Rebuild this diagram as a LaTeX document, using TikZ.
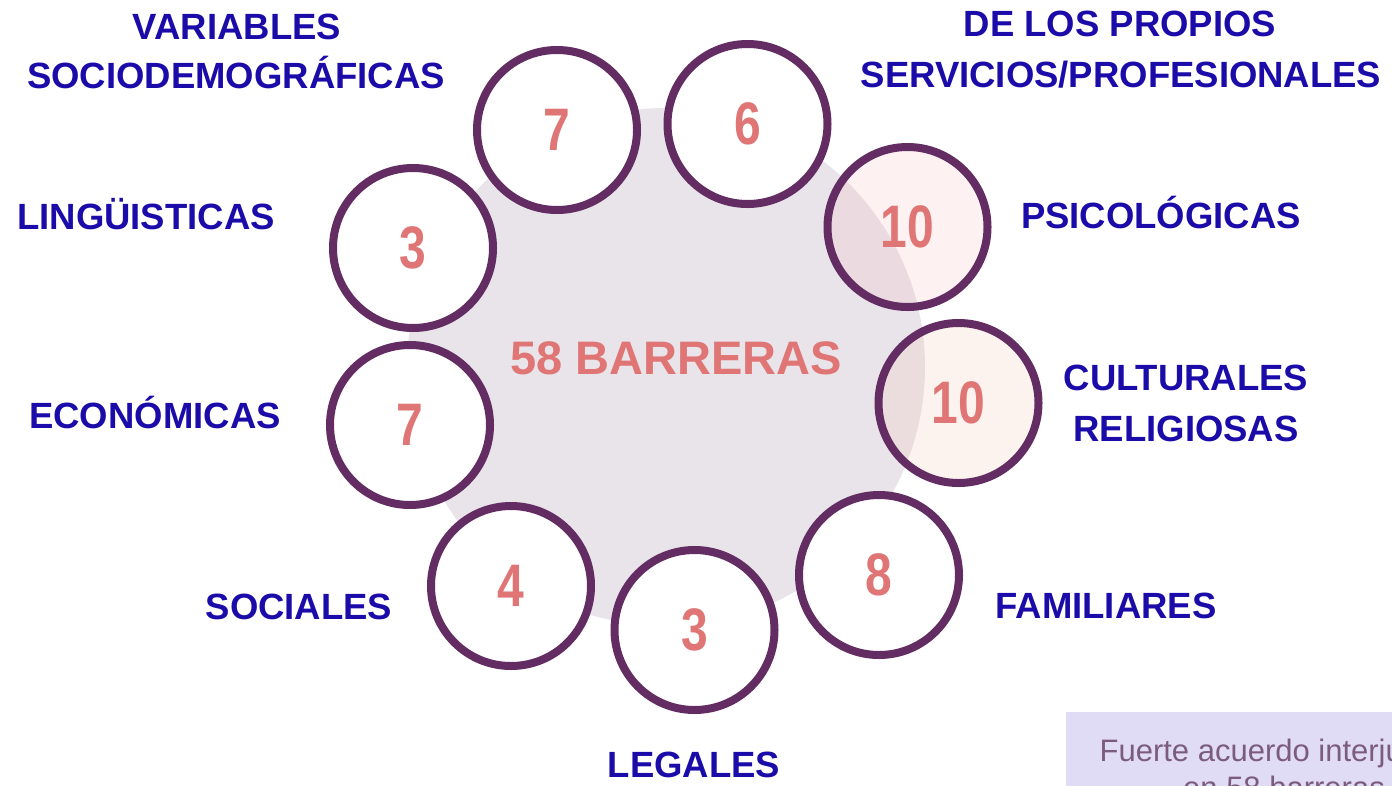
\documentclass[tikz,border=0pt]{standalone}
\usepackage{fontspec}
\setmainfont{Liberation Sans}
\usepackage{graphicx}
\definecolor{ring}{HTML}{632C62}
\definecolor{numc}{HTML}{E07575}
\definecolor{lab}{HTML}{1B0CA9}
\definecolor{bigc}{HTML}{E8E4EA}
\definecolor{psic}{HTML}{F6BEC0}
\definecolor{cult}{HTML}{F6C8B2}
\definecolor{boxc}{HTML}{E1DCF5}
\definecolor{boxt}{HTML}{7B5C7E}
\tikzset{
  ringc/.style={circle, draw=ring, line width=8pt, minimum size=160pt, inner sep=0pt, fill=white},
  numtxt/.style={text=numc, font=\fontsize{60}{60}\selectfont\bfseries},
  labtxt/.style={anchor=base, inner sep=0pt, text=lab, font=\fontsize{36.5}{36.5}\selectfont\bfseries},
}
\newcommand{\numcond}[1]{\scalebox{0.8}[1]{#1}}
\begin{document}
\begin{tikzpicture}[x=1pt, y=-1pt]
\useasboundingbox (0,0) rectangle (1392,785);
% big background circle
\fill[bigc] (666,367) circle (259);
\node[text=numc, font=\fontsize{47}{47}\selectfont\bfseries] (total) at (676,358) {58 BARRERAS};
% rings
\node[ringc] (c1) at (557,130) {};
\node[ringc] (c2) at (747.5,124) {};
\node[ringc, fill=psic, fill opacity=0.22] (c3) at (907.5,227) {};
\node[ringc, fill=cult, fill opacity=0.22] (c4) at (958.5,403) {};
\node[ringc] (c5) at (879,575) {};
\node[ringc] (c6) at (694.5,630) {};
\node[ringc] (c7) at (511,586) {};
\node[ringc] (c8) at (410,425) {};
\node[ringc] (c9) at (413,248) {};
% numbers
\node[numtxt] (n1) at (c1) {\numcond{7}};
\node[numtxt] (n2) at (c2) {\numcond{6}};
\node[numtxt] (n3) at (c3) {\numcond{10}};
\node[numtxt] (n4) at (c4) {\numcond{10}};
\node[numtxt] (n5) at (c5) {\numcond{8}};
\node[numtxt] (n6) at (c6) {\numcond{3}};
\node[numtxt] (n7) at (c7) {\numcond{4}};
\node[numtxt] (n8) at (c8) {\numcond{7}};
\node[numtxt] (n9) at (c9) {\numcond{3}};
% labels
\node[labtxt] (l1a) at (237,39) {VARIABLES};
\node[labtxt] (l1b) at (236,88) {SOCIODEMOGRÁFICAS};
\node[labtxt] (l2a) at (1120,36) {DE LOS PROPIOS};
\node[labtxt] (l2b) at (1121,87) {SERVICIOS/PROFESIONALES};
\node[labtxt] (l3) at (1161,228) {PSICOLÓGICAS};
\node[labtxt] (l4a) at (1186,390) {CULTURALES};
\node[labtxt] (l4b) at (1186,441) {RELIGIOSAS};
\node[labtxt] (l5) at (1106,618) {FAMILIARES};
\node[labtxt] (l6) at (694,777) {LEGALES};
\node[labtxt] (l7) at (299,619) {SOCIALES};
\node[labtxt] (l8) at (155,428) {ECONÓMICAS};
\node[labtxt] (l9) at (146,229) {LINGÜISTICAS};
% note box (cut by page edge, as in the reference)
\begin{scope}
\clip (0,0) rectangle (1392,785);
\fill[boxc] (1066,712) rectangle (1420,820);
\node[anchor=base, inner sep=0pt, text=boxt, font=\fontsize{31}{31}\selectfont] (nt1) at (1284,761) {Fuerte acuerdo interjueces};
\node[anchor=base, inner sep=0pt, text=boxt, font=\fontsize{31}{31}\selectfont] (nt2) at (1284,798) {en 58 barreras};
\end{scope}
\end{tikzpicture}
\end{document}
